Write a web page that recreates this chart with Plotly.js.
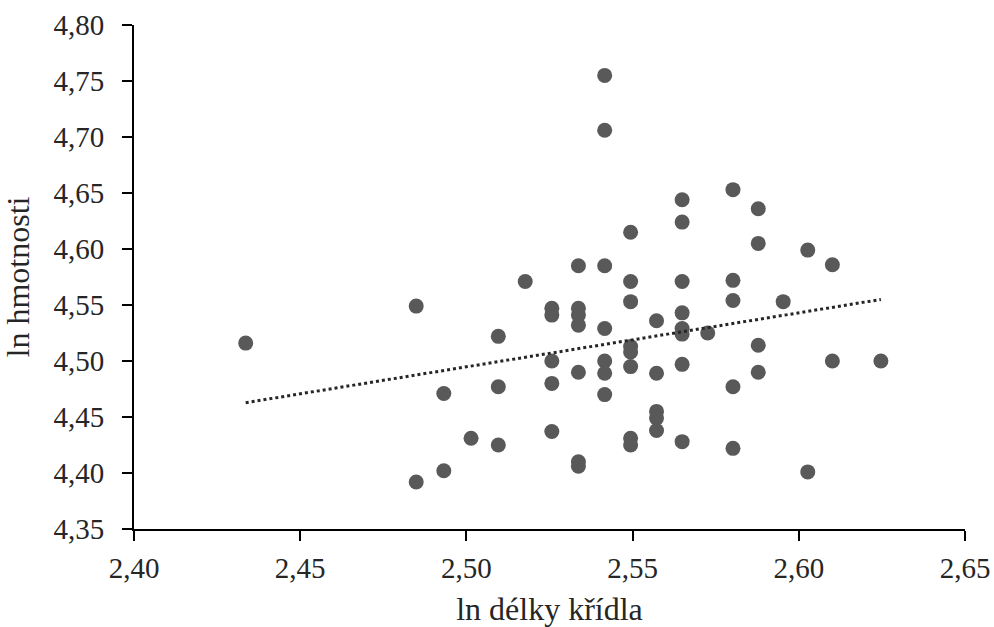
<!DOCTYPE html>
<html>
<head>
<meta charset="utf-8">
<script src="https://cdn.plot.ly/plotly-3.0.1.min.js"></script>
<style>html,body{margin:0;padding:0;background:#fff;}#chart{width:994px;height:627px;}</style>
</head>
<body>
<div id="chart"></div>
<script>
// ln of wing length (x) and ln of body mass (y)
var lnWing = [
  2.4336,
  2.4849, 2.4849,
  2.4932, 2.4932,
  2.5014,
  2.5096, 2.5096, 2.5096,
  2.5177,
  2.5257, 2.5257, 2.5257, 2.5257, 2.5257,
  2.5337, 2.5337, 2.5337, 2.5337, 2.5337, 2.5337, 2.5337,
  2.5416, 2.5416, 2.5416, 2.5416, 2.5416, 2.5416, 2.5416,
  2.5494, 2.5494, 2.5494, 2.5494, 2.5494, 2.5494, 2.5494, 2.5494,
  2.5572, 2.5572, 2.5572, 2.5572, 2.5572,
  2.5649, 2.5649, 2.5649, 2.5649, 2.5649, 2.5649, 2.5649, 2.5649,
  2.5726,
  2.5802, 2.5802, 2.5802, 2.5802, 2.5802,
  2.5878, 2.5878, 2.5878, 2.5878,
  2.5953,
  2.6027, 2.6027,
  2.6101, 2.6101,
  2.6247
];
var lnMass = [
  4.516,
  4.549, 4.392,
  4.471, 4.402,
  4.431,
  4.522, 4.477, 4.425,
  4.571,
  4.547, 4.541, 4.500, 4.480, 4.437,
  4.585, 4.547, 4.541, 4.532, 4.490, 4.410, 4.406,
  4.755, 4.706, 4.585, 4.529, 4.500, 4.489, 4.470,
  4.615, 4.571, 4.553, 4.513, 4.508, 4.495, 4.431, 4.425,
  4.536, 4.489, 4.455, 4.449, 4.438,
  4.644, 4.624, 4.571, 4.543, 4.529, 4.524, 4.497, 4.428,
  4.525,
  4.653, 4.572, 4.554, 4.477, 4.422,
  4.636, 4.605, 4.514, 4.490,
  4.553,
  4.599, 4.401,
  4.586, 4.500,
  4.500
];
var xTickVals = [2.40, 2.45, 2.50, 2.55, 2.60, 2.65];
var yTickVals = [4.35, 4.40, 4.45, 4.50, 4.55, 4.60, 4.65, 4.70, 4.75, 4.80];
var xTitle = 'ln délky křídla';
var yTitle = 'ln hmotnosti';

// least-squares linear trend from the data
var n = lnWing.length, sx = 0, sy = 0, sxx = 0, sxy = 0;
for (var i = 0; i < n; i++) { sx += lnWing[i]; sy += lnMass[i]; sxx += lnWing[i]*lnWing[i]; sxy += lnWing[i]*lnMass[i]; }
var slope = (n*sxy - sx*sy) / (n*sxx - sx*sx);
var intercept = (sy - slope*sx) / n;
var xMin = Math.min.apply(null, lnWing), xMax = Math.max.apply(null, lnWing);
var trendX = [xMin, xMax];
var trendY = trendX.map(function (v) { return intercept + slope*v; });

var font = 'Liberation Serif, Times New Roman, serif';
var data = [
  {x: lnWing, y: lnMass, type: 'scatter', mode: 'markers',
   marker: {color: '#595959', size: 15, line: {width: 0}}, hoverinfo: 'x+y'},
  {x: trendX, y: trendY, type: 'scatter', mode: 'lines',
   line: {color: '#262626', width: 3, dash: 'dot'}, hoverinfo: 'skip'}
];
var layout = {
  width: 994, height: 627,
  margin: {l: 134, r: 29, t: 25, b: 98},
  paper_bgcolor: '#fff', plot_bgcolor: '#fff',
  showlegend: false,
  separators: ', ',
  font: {family: font, color: '#000'},
  xaxis: {
    range: [2.40, 2.65], tickvals: xTickVals, tickformat: '.2f',
    showgrid: false, zeroline: false,
    showline: true, linecolor: '#000', linewidth: 2,
    ticks: 'outside', ticklen: 10, tickwidth: 2, tickcolor: '#000',
    ticklabelstandoff: 2,
    tickfont: {family: font, size: 29, color: '#262626'},
    title: {text: xTitle, font: {family: font, size: 32, color: '#262626'}, standoff: 24}
  },
  yaxis: {
    range: [4.35, 4.80], tickvals: yTickVals, tickformat: '.2f',
    showgrid: false, zeroline: false,
    showline: true, linecolor: '#000', linewidth: 2,
    ticks: 'outside', ticklen: 10, tickwidth: 2, tickcolor: '#000',
    ticklabelstandoff: 12,
    tickfont: {family: font, size: 29, color: '#262626'},
    title: {text: yTitle, font: {family: font, size: 32, color: '#262626'}, standoff: 16}
  }
};
Plotly.newPlot('chart', data, layout, {displayModeBar: false, staticPlot: true});
</script>
</body>
</html>
